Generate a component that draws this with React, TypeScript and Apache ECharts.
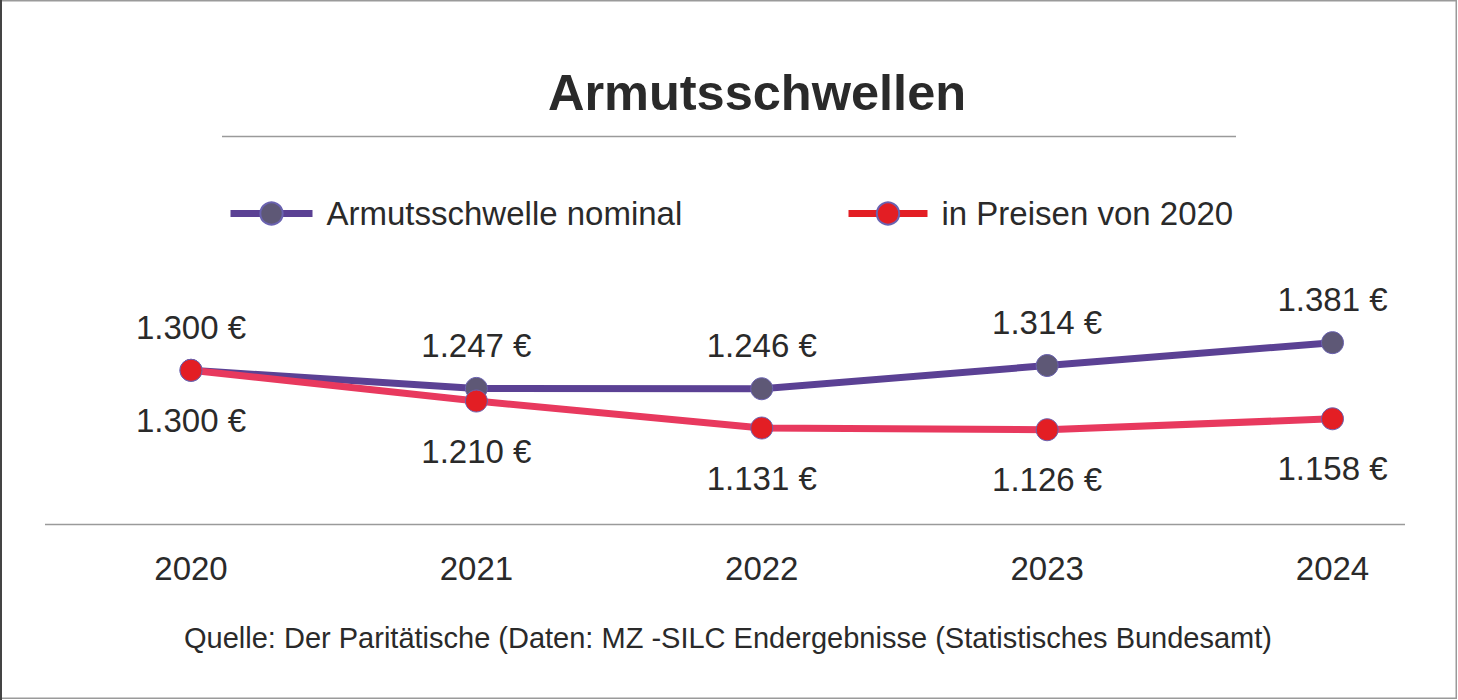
import React, { useEffect, useRef } from "react";
import * as echarts from "echarts";

const years = ["2020", "2021", "2022", "2023", "2024"];
const nominal = [1300, 1247, 1246, 1314, 1381];
const real2020 = [1300, 1210, 1131, 1126, 1158];
const seriesNames = ["Armutsschwelle nominal", "in Preisen von 2020"];
const titleText = "Armutsschwellen";
const sourceText =
  "Quelle: Der Paritätische (Daten: MZ -SILC Endergebnisse (Statistisches Bundesamt)";

const FONT = "'Liberation Sans', Arial, Helvetica, sans-serif";
const TEXT = "#2a2a2a";

const fmt = (v: number) => {
  const s = String(Math.round(v));
  const t = s.length > 3 ? s.slice(0, s.length - 3) + "." + s.slice(-3) : s;
  return t + " €";
};

export default function App() {
  const ref = useRef<HTMLDivElement>(null);
  useEffect(() => {
    if (!ref.current) return;
    const chart = echarts.init(ref.current, undefined, { renderer: "svg" });
    chart.setOption({
      animation: false,
      backgroundColor: "#ffffff",
      title: {
        text: titleText,
        left: 752,
        textAlign: "center",
        top: 62,
        textStyle: { fontFamily: FONT, fontWeight: "bold", fontSize: 50.5, color: TEXT },
      },
      legend: [
        {
          data: [{ name: seriesNames[0], lineStyle: { color: "#5B4194", width: 7 } }],
          left: 222,
          top: 192,
          itemWidth: 82,
          itemHeight: 28,
          textStyle: { fontFamily: FONT, fontSize: 33, color: TEXT, padding: [0, 0, 0, 9] },
        },
        {
          data: [{ name: seriesNames[1], lineStyle: { color: "#E31E24", width: 7 } }],
          left: 840,
          top: 192,
          itemWidth: 79,
          itemHeight: 28,
          textStyle: { fontFamily: FONT, fontSize: 33, color: TEXT, padding: [0, 0, 0, 9] },
        },
      ],
      grid: { left: 191, right: 125.5, top: 302, bottom: 176, containLabel: false },
      xAxis: {
        type: "category",
        data: years,
        boundaryGap: false,
        axisLine: { show: false },
        axisTick: { show: false },
        axisLabel: {
          fontFamily: FONT,
          fontSize: 33,
          color: TEXT,
          margin: 28,
        },
        splitLine: { show: false },
      },
      yAxis: {
        type: "value",
        min: 850,
        max: 1500,
        show: false,
        splitLine: { show: false },
      },
      series: [
        {
          name: seriesNames[0],
          type: "line",
          data: nominal,
          symbol: "circle",
          symbolSize: 22,
          z: 2,
          lineStyle: { color: "#5B4194", width: 7 },
          itemStyle: { color: "#5E5876", borderColor: "#6A62B0", borderWidth: 1 },
          label: {
            show: true,
            position: "top",
            distance: 15,
            formatter: (p: any) => fmt(p.value),
            fontFamily: FONT,
            fontSize: 33,
            color: TEXT,
          },
        },
        {
          name: seriesNames[1],
          type: "line",
          data: real2020,
          symbol: "circle",
          symbolSize: 22,
          z: 3,
          lineStyle: { color: "#E8395E", width: 7 },
          itemStyle: { color: "#E31E24", borderColor: "#6A62B0", borderWidth: 1 },
          label: {
            show: true,
            position: "bottom",
            distance: 22,
            formatter: (p: any) => fmt(p.value),
            fontFamily: FONT,
            fontSize: 33,
            color: TEXT,
          },
        },
      ],
      graphic: [
        {
          type: "rect",
          shape: { x: 0.75, y: 0.75, width: 1455.5, height: 697.5 },
          style: { fill: "none", stroke: "#9a9a9a", lineWidth: 1.5 },
          silent: true,
        },
        {
          type: "line",
          shape: { x1: 1, y1: 0, x2: 1, y2: 700 },
          style: { stroke: "#444444", lineWidth: 2 },
          silent: true,
        },
        {
          type: "line",
          shape: { x1: 222, y1: 136.5, x2: 1236, y2: 136.5 },
          style: { stroke: "#9a9a9a", lineWidth: 1.5 },
          silent: true,
        },
        {
          type: "line",
          shape: { x1: 45, y1: 524.5, x2: 1405, y2: 524.5 },
          style: { stroke: "#9a9a9a", lineWidth: 1.5 },
          silent: true,
        },
        {
          type: "text",
          x: 728,
          y: 638,
          style: {
            text: sourceText,
            fontFamily: FONT,
            fontSize: 29,
            fill: TEXT,
            align: "center",
            verticalAlign: "middle",
          },
          silent: true,
        },
      ],
    });
    return () => chart.dispose();
  }, []);
  return (
    <div
      ref={ref}
      style={{ position: "absolute", left: 0, top: 0, width: 1458, height: 700 }}
    />
  );
}
